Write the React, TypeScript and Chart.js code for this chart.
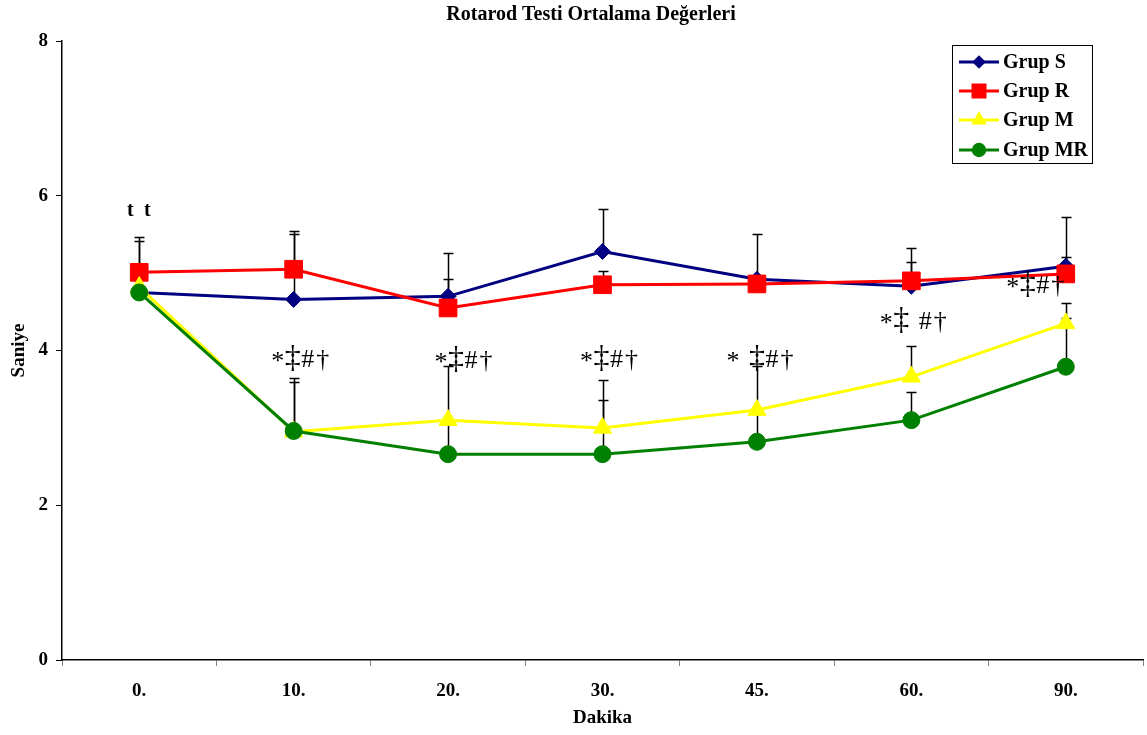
import { useEffect, useRef } from "react";
import { Chart, registerables } from "chart.js";

Chart.register(...registerables);

// ---- data ----
const categories = ["0.", "10.", "20.", "30.", "45.", "60.", "90."];
const grupS = [4.75, 4.66, 4.7, 5.28, 4.92, 4.83, 5.09];
const grupR = [5.01, 5.05, 4.55, 4.85, 4.86, 4.9, 4.99];
const grupM = [4.82, 2.95, 3.1, 3.0, 3.23, 3.66, 4.35];
const grupMR = [4.75, 2.96, 2.66, 2.66, 2.82, 3.1, 3.79];
const errS = [0.72, 0.89, 0.56, 0.55, 0.58, 0.49, 0.64];
const errR = [0.41, 0.45, 0.37, 0.18, 0.09, 0.24, 0.22];
const errM = [0.2, 0.7, 0.7, 0.62, 0.57, 0.4, 0.26];
const errMR = [0.2, 0.63, 0.44, 0.7, 0.4, 0.36, 0.63];
const seriesNames = ["Grup S", "Grup R", "Grup M", "Grup MR"];
const significance = ["t t", "*‡#†", "*‡#†", "*‡#†", "* ‡#†", "*‡ #†", "*‡#†"];
const significanceY = [5.74, 3.79, 3.77, 3.79, 3.79, 4.28, 4.74];
const significanceShift = [-9, -16, -7, -16, -24, -25, -53];

const FONT = "'Liberation Serif', 'Times New Roman', serif";
const colors = ["#000080", "#FF0000", "#FFFF00", "#008000"];
const pointStyles = ["rectRot", "rect", "triangle", "circle"];
const pointRadii = [8, 12.5, 10.5, 8.5];
const errors = [errS, errR, errM, errMR];

function drawMarker(ctx: CanvasRenderingContext2D, style: string, x: number, y: number, r: number) {
  ctx.beginPath();
  if (style === "rectRot") {
    ctx.moveTo(x, y - r);
    ctx.lineTo(x + r, y);
    ctx.lineTo(x, y + r);
    ctx.lineTo(x - r, y);
    ctx.closePath();
  } else if (style === "rect") {
    const s = Math.SQRT1_2 * r;
    ctx.rect(x - s, y - s, 2 * s, 2 * s);
  } else if (style === "triangle") {
    ctx.moveTo(x, y - r);
    ctx.lineTo(x + Math.sin((2 * Math.PI) / 3) * r, y + 0.5 * r);
    ctx.lineTo(x - Math.sin((2 * Math.PI) / 3) * r, y + 0.5 * r);
    ctx.closePath();
  } else {
    ctx.arc(x, y, r, 0, Math.PI * 2);
  }
  ctx.fill();
}

const errorBarPlugin = {
  id: "errorBars",
  beforeDatasetsDraw(chart: any) {
    const ctx = chart.ctx as CanvasRenderingContext2D;
    const xs = chart.scales.x;
    const ys = chart.scales.y;
    ctx.save();
    ctx.strokeStyle = "#000";
    ctx.lineWidth = 1.5;
    errors.forEach((errArr, di) => {
      const data = chart.data.datasets[di].data as number[];
      errArr.forEach((e, i) => {
        const px = Math.round(xs.getPixelForValue(i)) + 0.5;
        const y0 = ys.getPixelForValue(data[i]);
        const y1 = Math.round(ys.getPixelForValue(data[i] + e)) + 0.5;
        ctx.beginPath();
        ctx.moveTo(px, y0);
        ctx.lineTo(px, y1);
        ctx.moveTo(px - 5, y1);
        ctx.lineTo(px + 5, y1);
        ctx.stroke();
      });
    });
    ctx.restore();
  },
};

const decorPlugin = {
  id: "decor",
  afterDatasetsDraw(chart: any) {
    const ctx = chart.ctx as CanvasRenderingContext2D;
    const xs = chart.scales.x;
    const ys = chart.scales.y;
    ctx.save();
    ctx.fillStyle = "#000";
    // title
    ctx.font = `bold 20px ${FONT}`;
    ctx.textAlign = "center";
    ctx.textBaseline = "alphabetic";
    ctx.fillText("Rotarod Testi Ortalama Değerleri", 591, 20);

    // significance marks
    significance.forEach((txt, i) => {
      let cx = xs.getPixelForValue(i) + significanceShift[i];
      const by = ys.getPixelForValue(significanceY[i]);
      ctx.textAlign = "center";
      for (const ch of txt) {
        if (ch === " ") {
          cx += 9;
          continue;
        }
        if (ch === "t") {
          ctx.font = `bold 20px ${FONT}`;
          ctx.fillText(ch, cx, by);
          cx += 8;
          continue;
        }
        ctx.font = ch === "‡" ? `32px ${FONT}` : `26px ${FONT}`;
        ctx.fillText(ch, cx, ch === "*" ? by + 2 : by);
        cx += 15;
      }
    });

    // legend
    const bx = 952.5, by0 = 45.5, bw = 140, bh = 118;
    ctx.fillStyle = "#fff";
    ctx.fillRect(bx, by0, bw, bh);
    ctx.strokeStyle = "#000";
    ctx.lineWidth = 1;
    ctx.strokeRect(bx, by0, bw, bh);
    const rows = [62, 91, 120, 150];
    seriesNames.forEach((name, i) => {
      const ry = rows[i];
      ctx.strokeStyle = colors[i];
      ctx.lineWidth = 3;
      ctx.beginPath();
      ctx.moveTo(959, ry);
      ctx.lineTo(999, ry);
      ctx.stroke();
      ctx.fillStyle = colors[i];
      drawMarker(ctx, pointStyles[i], 979, ry, pointRadii[i] * 0.85);
      ctx.fillStyle = "#000";
      ctx.font = `bold 20px ${FONT}`;
      ctx.textAlign = "left";
      ctx.textBaseline = "middle";
      ctx.fillText(name, 1003, ry + 1);
    });
    ctx.restore();
  },
};

export default function App() {
  const ref = useRef<HTMLCanvasElement | null>(null);
  useEffect(() => {
    if (!ref.current) return;
    const seriesData = [grupS, grupR, grupM, grupMR];
    const tickFont = { family: FONT, size: 19, weight: "bold" as const };
    const chart = new Chart(ref.current, {
      type: "line",
      data: {
        labels: categories,
        datasets: seriesData.map((d, i) => ({
          label: seriesNames[i],
          data: d,
          borderColor: colors[i],
          backgroundColor: colors[i],
          borderWidth: 3,
          pointStyle: pointStyles[i] as any,
          pointRadius: pointRadii[i],
          pointBackgroundColor: colors[i],
          pointBorderColor: colors[i],
          pointBorderWidth: 1,
          tension: 0,
          order: 4 - i,
        })),
      },
      options: {
        responsive: false,
        animation: false,
        devicePixelRatio: 1,
        layout: { autoPadding: false, padding: { top: 41, left: 0, right: 4, bottom: 0 } },
        plugins: {
          legend: { display: false },
          tooltip: { enabled: false },
          title: { display: false },
        },
        scales: {
          x: {
            type: "category",
            offset: true,
            grid: {
              offset: true,
              drawOnChartArea: false,
              drawTicks: true,
              tickLength: 6,
              color: "#808080",
            },
            border: { display: true, color: "#000", width: 1.5 },
            ticks: { font: tickFont, color: "#000", padding: 14, maxRotation: 0 },
            title: {
              display: true,
              text: "Dakika",
              font: tickFont,
              color: "#000",
              padding: { top: 4, bottom: 6 },
            },
            afterFit: (s: any) => {
              s.height = 75;
              s.paddingLeft = 0;
              s.paddingRight = 0;
            },
          },
          y: {
            min: 0,
            max: 8,
            ticks: { stepSize: 2, font: tickFont, color: "#000", padding: 8 },
            grid: { drawOnChartArea: false, tickLength: 6, color: "#000" },
            border: { display: true, color: "#000", width: 1.5 },
            title: {
              display: true,
              text: "Saniye",
              font: tickFont,
              color: "#000",
              padding: { top: 8, bottom: 8 },
            },
            afterFit: (s: any) => {
              s.width = 62;
            },
          },
        },
      },
      plugins: [errorBarPlugin, decorPlugin],
    });
    return () => chart.destroy();
  }, []);
  return (
    <div style={{ position: "fixed", left: 0, top: 0, width: 1147, height: 735, background: "#fff" }}>
      <canvas ref={ref} width={1147} height={735} />
    </div>
  );
}
